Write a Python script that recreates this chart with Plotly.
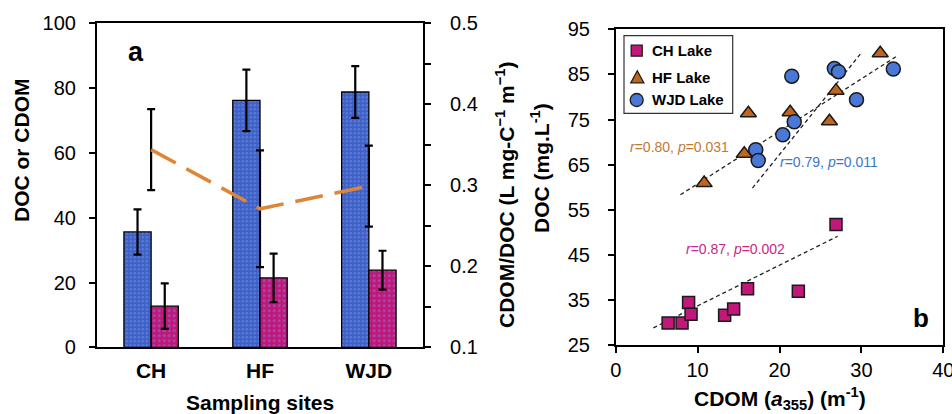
import plotly.graph_objects as go

# ---------------- Panel a data ----------------
sites = ["CH", "HF", "WJD"]
doc_mean = [35.6, 76.2, 78.8]
doc_err = [7.0, 9.5, 8.0]
cdom_mean = [12.7, 21.4, 23.8]
cdom_err = [7.0, 7.5, 6.0]
ratio_mean = [0.344, 0.271, 0.299]
ratio_err = [0.050, 0.072, 0.050]

# ---------------- Panel b data ----------------
ch_x = [6.4, 8.1, 8.9, 9.2, 13.3, 14.4, 16.1, 22.3, 26.9]
ch_y = [29.9, 29.9, 34.4, 31.8, 31.6, 33.0, 37.5, 36.9, 51.7]
hf_x = [10.8, 15.7, 16.2, 21.3, 26.1, 26.9, 32.3]
hf_y = [60.9, 67.4, 76.4, 76.6, 74.6, 81.4, 89.7]
wjd_x = [17.1, 17.4, 21.5, 20.4, 21.8, 26.7, 27.2, 29.4, 33.9]
wjd_y = [68.3, 65.9, 84.6, 71.6, 74.5, 86.3, 85.6, 79.4, 86.2]
# fitted trend lines (endpoints)
ch_fit_x = [4.6, 27.1]
ch_fit_y = [28.8, 49.1]
hf_fit_x = [7.9, 34.2]
hf_fit_y = [58.3, 88.9]
wjd_fit_x = [16.7, 30.0]
wjd_fit_y = [59.8, 89.8]

legend_names = ["CH Lake", "HF Lake", "WJD Lake"]
ch_color, hf_color, wjd_color = "#c2187a", "#c0641e", "#4a78d6"

FONT = "Arial, Liberation Sans, sans-serif"
W, H = 952, 414

def px(x):
    return x / W

def py(y):
    return 1 - y / H

fig = go.Figure()

# ---- Panel a ----
fig.add_trace(go.Bar(
    x=sites, y=doc_mean, name="DOC", showlegend=False,
    marker=dict(color="#3d5fc6", line=dict(color="black", width=1.3),
                pattern=dict(shape=".", fgcolor="#7d9be6", bgcolor="#3d5fc6", size=4, solidity=0.3)),
    error_y=dict(type="data", array=doc_err, color="black", thickness=2.2, width=4),
    xaxis="x", yaxis="y"))
fig.add_trace(go.Bar(
    x=sites, y=cdom_mean, name="CDOM", showlegend=False,
    marker=dict(color="#c0167a", line=dict(color="black", width=1.3),
                pattern=dict(shape=".", fgcolor="#8a86d8", bgcolor="#c0167a", size=5, solidity=0.25)),
    error_y=dict(type="data", array=cdom_err, color="black", thickness=2.2, width=4),
    xaxis="x", yaxis="y"))
fig.add_trace(go.Scatter(
    x=sites, y=ratio_mean, mode="lines", name="CDOM/DOC", showlegend=False,
    line=dict(color="#de8536", width=3.5, dash="28px,12px"),
    error_y=dict(type="data", array=ratio_err, color="black", thickness=2.2, width=4),
    xaxis="x", yaxis="y2"))

# ---- Panel b ----
for fx, fy in [(ch_fit_x, ch_fit_y), (hf_fit_x, hf_fit_y), (wjd_fit_x, wjd_fit_y)]:
    fig.add_trace(go.Scatter(x=fx, y=fy, mode="lines", showlegend=False,
                             line=dict(color="#222222", width=1.3, dash="4px,3px"),
                             xaxis="x2", yaxis="y3"))

fig.add_trace(go.Scatter(x=ch_x, y=ch_y, mode="markers", name=legend_names[0], showlegend=False,
                         marker=dict(symbol="square", size=12, color=ch_color,
                                     line=dict(color="#1a1a1a", width=1.5)),
                         xaxis="x2", yaxis="y3"))
fig.add_trace(go.Scatter(x=hf_x, y=hf_y, mode="markers", name=legend_names[1], showlegend=False,
                         marker=dict(symbol="triangle-up", size=14, color=hf_color,
                                     line=dict(color="#1a1a1a", width=1.5)),
                         xaxis="x2", yaxis="y3"))
fig.add_trace(go.Scatter(x=wjd_x, y=wjd_y, mode="markers", name=legend_names[2], showlegend=False,
                         marker=dict(symbol="circle", size=14, color=wjd_color,
                                     line=dict(color="#1a1a1a", width=1.5)),
                         xaxis="x2", yaxis="y3"))

axis_line = dict(showline=True, linecolor="black", linewidth=1.5, showgrid=False, zeroline=False)
tickfont = dict(family=FONT, size=20, color="black")

fig.update_layout(
    width=W, height=H, margin=dict(l=0, r=0, t=0, b=0),
    paper_bgcolor="white", plot_bgcolor="white",
    barmode="group", bargap=0.5, bargroupgap=0, showlegend=False,
    font=dict(family=FONT, color="black"),
    xaxis=dict(domain=[px(96.7), px(423.3)], anchor="y", mirror=True, ticks="",
               tickfont=dict(family=FONT, size=21, color="black", weight="bold"),
               ticklabelstandoff=4, automargin=False, **axis_line),
    yaxis=dict(domain=[py(347.3), py(23.3)], anchor="x", range=[0, 100], dtick=20,
               ticks="outside", ticklen=6, tickwidth=1.5, tickcolor="black",
               tickfont=tickfont, ticklabelstandoff=9, automargin=False, **axis_line),
    yaxis2=dict(overlaying="y", side="right", anchor="x", range=[0.1, 0.5], dtick=0.1,
                tickformat=".1f",
                ticks="outside", ticklen=6, tickwidth=1.5, tickcolor="black",
                minor=dict(dtick=0.05, ticks="outside", ticklen=6, tickwidth=1.5, tickcolor="black"),
                tickfont=tickfont, ticklabelstandoff=15, automargin=False, **axis_line),
    xaxis2=dict(domain=[px(615.7), px(943.3)], anchor="y3", range=[0, 40], dtick=10,
                mirror=True, ticks="outside", ticklen=6, tickwidth=1.5, tickcolor="black",
                tickfont=tickfont, ticklabelstandoff=0, automargin=False,
                ticklabeloverflow="allow", **axis_line),
    yaxis3=dict(domain=[py(345), py(29.3)], anchor="x2", range=[25, 95], dtick=10,
                tick0=25, mirror=True, ticks="outside", ticklen=6, tickwidth=1.5, tickcolor="black",
                tickfont=tickfont, ticklabelstandoff=14, automargin=False, **axis_line),
)

ann = []
def add(text, x, y, size=21, bold=True, angle=0, color="black", xanchor="center"):
    ann.append(dict(text=text, x=px(x), y=py(y), xref="paper", yref="paper",
                    showarrow=False, textangle=angle, xanchor=xanchor, yanchor="middle",
                    font=dict(family=FONT, size=size, color=color,
                              weight="bold" if bold else "normal")))

add("DOC or CDOM", 21, 150, angle=-90)
add("Sampling sites", 260, 402)
add("CDOM/DOC (L mg-C<sup>−1</sup> m<sup>−1</sup>)", 505, 195, angle=-90)
add("DOC (mg.L<sup>-1</sup>)", 540, 168, angle=-90)
add("CDOM (<i>a</i><sub>355</sub>) (m<sup>-1</sup>)", 780, 398)
add("a", 136, 52, size=27)
add("b", 921, 318, size=26)
add("<i>r</i>=0.80, <i>p</i>=0.031", 628, 147, size=14, bold=False, color="#c07a30", xanchor="left")
add("<i>r</i>=0.79, <i>p</i>=0.011", 778, 162, size=14, bold=False, color="#3a76c8", xanchor="left")
add("<i>r</i>=0.87, <i>p</i>=0.002", 684, 249, size=14, bold=False, color="#c2288a", xanchor="left")

# ---- manual legend for panel b ----
leg_rows = [50.7, 77.3, 100.0]
for name, yy in zip(legend_names, leg_rows):
    add(name, 650, yy, size=15, bold=True, xanchor="left")

shapes = []
shapes.append(dict(type="rect", xref="paper", yref="paper",
                   x0=px(624), x1=px(732.7), y0=py(113.3), y1=py(35.7),
                   line=dict(color="#333333", width=1.2), fillcolor="white", layer="below"))
# square
cx, cy, s = 636.7, leg_rows[0], 5.5
shapes.append(dict(type="rect", xref="paper", yref="paper",
                   x0=px(cx - s), x1=px(cx + s), y0=py(cy + s), y1=py(cy - s),
                   line=dict(color="#1a1a1a", width=1.3), fillcolor=ch_color))
# triangle
cx, cy = 637.3, leg_rows[1]
path = "M {} {} L {} {} L {} {} Z".format(px(cx - 6.5), py(cy + 5.5), px(cx + 6.5), py(cy + 5.5),
                                          px(cx), py(cy - 6.5))
shapes.append(dict(type="path", xref="paper", yref="paper", path=path,
                   line=dict(color="#1a1a1a", width=1.3), fillcolor=hf_color))
# circle
cx, cy, r = 636.7, leg_rows[2], 6.5
shapes.append(dict(type="circle", xref="paper", yref="paper",
                   x0=px(cx - r), x1=px(cx + r), y0=py(cy + r), y1=py(cy - r),
                   line=dict(color="#1a1a1a", width=1.3), fillcolor=wjd_color))

fig.update_layout(annotations=ann, shapes=shapes)

fig.write_html("out.html")
